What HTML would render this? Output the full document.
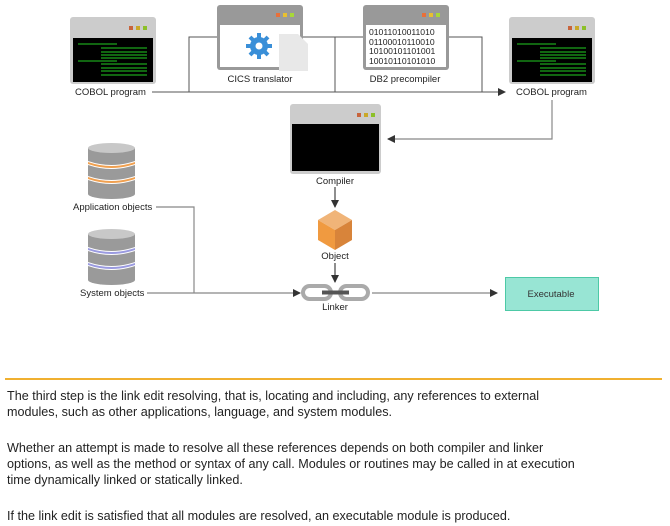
<!DOCTYPE html>
<html><head><meta charset="utf-8"><style>
body{margin:0;width:670px;height:526px;overflow:hidden;background:#fff;font-family:"Liberation Sans",Arial,sans-serif;position:relative}
.t{position:absolute;left:7px;font-size:12.6px;color:#222;white-space:nowrap;line-height:16px}
</style></head><body>
<svg width="670" height="380" style="position:absolute;left:0;top:0" font-family="Liberation Sans, Arial, sans-serif" font-size="9.5" fill="#222">
<defs>
<marker id="a" markerWidth="8" markerHeight="8" refX="7" refY="4" orient="auto" markerUnits="userSpaceOnUse"><path d="M0,0 L8,4 L0,8 z" fill="#333"/></marker>
</defs>
<g stroke="#555" stroke-width="1" fill="none">
<path d="M152,92 H505" marker-end="url(#a)"/>
<path d="M189,92 V37 H217"/>
<path d="M302,37 H363"/>
<path d="M335,37 V92"/>
<path d="M448,37 H482 V92"/>
</g>
<g stroke="#888" stroke-width="1.2" fill="none">
<path d="M552,100 V139 H388" marker-end="url(#a)"/>
<path d="M335,187 V207" stroke="#444" marker-end="url(#a)"/>
<path d="M335,263 V282" stroke="#444" marker-end="url(#a)"/>
<path d="M156,207 H194 V293"/>
<path d="M147,293 H300" marker-end="url(#a)"/>
<path d="M372,293 H497" marker-end="url(#a)"/>
</g>
<rect x="70" y="17" width="86" height="67" rx="3" fill="#ccc"/>
<rect x="73" y="38" width="80" height="44" fill="#000"/>
<rect x="129" y="26" width="4" height="4" fill="#c8643c"/><rect x="136" y="26" width="4" height="4" fill="#c9a828"/><rect x="143" y="26" width="4" height="4" fill="#8cc028"/>
<g stroke="#2c2" stroke-width="1"><path d="M78,44H117M101,48H147M101,52H147M101,55H147M101,58H147M78,61H117M101,64H147M101,68H147M101,71H147M101,75H147"/></g>
<text x="75" y="95">COBOL program</text>
<rect x="217" y="5" width="86" height="65" rx="3" fill="#999"/>
<rect x="220" y="25" width="80" height="42" fill="#fff"/>
<rect x="276" y="13" width="4" height="4" fill="#e8703a"/><rect x="283" y="13" width="4" height="4" fill="#e8c030"/><rect x="290" y="13" width="4" height="4" fill="#a8d838"/>
<circle cx="259" cy="46" r="9" fill="#3a8fd8"/>
<g stroke="#3a8fd8" stroke-width="4"><path d="M259,33V59M246,46H272M250,37L268,55M268,37L250,55"/></g>
<circle cx="259" cy="46" r="3.5" fill="#fff"/>
<path d="M279,34 H298 L308,44 V71 H279 Z" fill="#e8e8e8"/>
<text x="260" y="82" text-anchor="middle">CICS translator</text>
<rect x="363" y="5" width="86" height="65" rx="3" fill="#999"/>
<rect x="366" y="25" width="80" height="42" fill="#fff"/>
<rect x="422" y="13" width="4" height="4" fill="#e8703a"/><rect x="429" y="13" width="4" height="4" fill="#e8c030"/><rect x="436" y="13" width="4" height="4" fill="#a8d838"/>
<g font-family="Liberation Sans, Arial, sans-serif" font-size="8.6" fill="#222"><text x="369" y="35">01011010011010</text><text x="369" y="45">01100010110010</text><text x="369" y="54">10100101101001</text><text x="369" y="64">10010110101010</text></g>
<text x="405" y="82" text-anchor="middle">DB2 precompiler</text>
<rect x="509" y="17" width="86" height="67" rx="3" fill="#ccc"/>
<rect x="512" y="38" width="80" height="44" fill="#000"/>
<rect x="568" y="26" width="4" height="4" fill="#c8643c"/><rect x="575" y="26" width="4" height="4" fill="#c9a828"/><rect x="582" y="26" width="4" height="4" fill="#8cc028"/>
<g stroke="#2c2" stroke-width="1"><path d="M517,44H556M540,48H586M540,52H586M540,55H586M540,58H586M517,61H556M540,64H586M540,68H586M540,71H586M540,75H586"/></g>
<text x="516" y="95">COBOL program</text>
<rect x="290" y="104" width="91" height="70" rx="3" fill="#ccc"/>
<rect x="292" y="124" width="87" height="47" fill="#000"/>
<rect x="357" y="113" width="4" height="4" fill="#c8643c"/><rect x="364" y="113" width="4" height="4" fill="#c9a828"/><rect x="371" y="113" width="4" height="4" fill="#8cc028"/>
<text x="335" y="184" text-anchor="middle">Compiler</text>
<path d="M335,210 L352,220 L335,230 L318,220 Z" fill="#f0b478"/>
<path d="M318,220 L335,230 V250 L318,240 Z" fill="#f09a40"/>
<path d="M352,220 L335,230 V250 L352,240 Z" fill="#d8843a"/>
<text x="335" y="259" text-anchor="middle">Object</text>
<rect x="303" y="286" width="28" height="13" rx="6.5" fill="none" stroke="#aaa" stroke-width="4"/>
<rect x="340" y="286" width="28" height="13" rx="6.5" fill="none" stroke="#aaa" stroke-width="4"/>
<path d="M322,292.5 H349" stroke="#555" stroke-width="4"/>
<text x="335" y="310" text-anchor="middle">Linker</text>
<rect x="505.5" y="277.5" width="93" height="33" fill="#98e5d4" stroke="#4dc9a6"/>
<text x="551" y="297" text-anchor="middle" fill="#333">Executable</text>
<g>
<rect x="88" y="148" width="47" height="46" fill="#9a9a9a"/>
<ellipse cx="111.5" cy="194" rx="23.5" ry="5" fill="#9a9a9a"/>
<path d="M88,161 Q111.5,169 135,161 V165 Q111.5,173 88,165Z" fill="#fff"/>
<path d="M88,162 Q111.5,170 135,162 V164 Q111.5,172 88,164Z" fill="#f0a050"/>
<path d="M88,176 Q111.5,184 135,176 V180 Q111.5,188 88,180Z" fill="#fff"/>
<path d="M88,177 Q111.5,185 135,177 V179 Q111.5,187 88,179Z" fill="#f0a050"/>
<ellipse cx="111.5" cy="148" rx="23.5" ry="5" fill="#c8c8c8"/>
</g>
<text x="73" y="210">Application objects</text>
<g>
<rect x="88" y="234" width="47" height="46" fill="#9a9a9a"/>
<ellipse cx="111.5" cy="280" rx="23.5" ry="5" fill="#9a9a9a"/>
<path d="M88,247 Q111.5,255 135,247 V251 Q111.5,259 88,251Z" fill="#fff"/>
<path d="M88,248 Q111.5,256 135,248 V250 Q111.5,258 88,250Z" fill="#9a9ae0"/>
<path d="M88,262 Q111.5,270 135,262 V266 Q111.5,274 88,266Z" fill="#fff"/>
<path d="M88,263 Q111.5,271 135,263 V265 Q111.5,273 88,265Z" fill="#9a9ae0"/>
<ellipse cx="111.5" cy="234" rx="23.5" ry="5" fill="#c8c8c8"/>
</g>
<text x="80" y="296">System objects</text>
<rect x="5" y="378" width="657" height="2" fill="#f0b030"/>
</svg>
<div class="t" style="top:388px">The third step is the link edit resolving, that is, locating and including, any references to external</div>
<div class="t" style="top:404px">modules, such as other applications, language, and system modules.</div>
<div class="t" style="top:440px">Whether an attempt is made to resolve all these references depends on both compiler and linker</div>
<div class="t" style="top:456px">options, as well as the method or syntax of any call. Modules or routines may be called in at execution</div>
<div class="t" style="top:472px">time dynamically linked or statically linked.</div>
<div class="t" style="top:508px">If the link edit is satisfied that all modules are resolved, an executable module is produced.</div>
</body></html>
